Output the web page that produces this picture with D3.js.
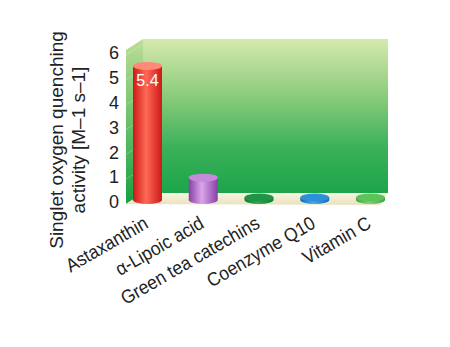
<!DOCTYPE html>
<html>
<head>
<meta charset="utf-8">
<script src="https://cdn.jsdelivr.net/npm/d3@7"></script>
<style>
  body { margin: 0; background: #fff; }
  svg { display: block; }
  text { font-family: "Liberation Sans", Arial, sans-serif; }
</style>
</head>
<body>
<svg width="450" height="347"></svg>
<script>
// data
const categories = ['Astaxanthin', 'α-Lipoic acid', 'Green tea catechins', 'Coenzyme Q10', 'Vitamin C'];
const values = [5.4, 0.9, 0.08, 0.05, 0.04];
const barColors = [
  ['#cc1818', '#ff6a55', '#ff8a78'],
  ['#8a3fa6', '#d9a6ea', '#c58ad8'],
  ['#117a35', '#2fa85a', '#1f9447'],
  ['#1368b8', '#4aa8ee', '#2e8fdc'],
  ['#3ea43e', '#7fd27a', '#5cc35a']
];
const yTicks = [0, 1, 2, 3, 4, 5, 6];
const yTitle = ['Singlet oxygen quenching', 'activity [M\u20131 s\u20131]'];

const svg = d3.select('svg');
const defs = svg.append('defs');

// 3d box geometry
const back = {left: 143, right: 388, top: 39, bottom: 193};
const depth = {dx: -17, dy: 11};

const y = d3.scaleLinear().domain([0, 6]).range([back.bottom, back.top + 5]);
const x = d3.scaleBand().domain(categories).range([133, 385]).paddingInner(0.48).paddingOuter(0);

// gradients
const wallGrad = defs.append('linearGradient').attr('id', 'wall')
  .attr('x1', 0).attr('y1', 0).attr('x2', 0).attr('y2', 1);
[['0%', '#d6e9ae'], ['35%', '#8fcd7e'], ['70%', '#3cb15a'], ['100%', '#1ca549']]
  .forEach(s => wallGrad.append('stop').attr('offset', s[0]).attr('stop-color', s[1]));

const sideGrad = defs.append('linearGradient').attr('id', 'side')
  .attr('x1', 0).attr('y1', 0).attr('x2', 0).attr('y2', 1);
[['0%', '#bcdc98'], ['40%', '#7cc672'], ['100%', '#17a044']]
  .forEach(s => sideGrad.append('stop').attr('offset', s[0]).attr('stop-color', s[1]));

const floorGrad = defs.append('linearGradient').attr('id', 'floor')
  .attr('x1', 0).attr('y1', 0).attr('x2', 0).attr('y2', 1);
[['0%', '#f8f4de'], ['100%', '#e9e2c0']]
  .forEach(s => floorGrad.append('stop').attr('offset', s[0]).attr('stop-color', s[1]));

barColors.forEach((c, i) => {
  const g = defs.append('linearGradient').attr('id', 'bar' + i)
    .attr('x1', 0).attr('y1', 0).attr('x2', 1).attr('y2', 0);
  g.append('stop').attr('offset', '0%').attr('stop-color', c[0]);
  g.append('stop').attr('offset', '45%').attr('stop-color', c[1]);
  g.append('stop').attr('offset', '100%').attr('stop-color', c[0]);
});

// back wall
svg.append('rect')
  .attr('x', back.left).attr('y', back.top)
  .attr('width', back.right - back.left).attr('height', back.bottom - back.top)
  .attr('fill', 'url(#wall)');

// side wall
svg.append('polygon')
  .attr('points', [
    [back.left, back.top], [back.left + depth.dx, back.top + depth.dy],
    [back.left + depth.dx, back.bottom + depth.dy], [back.left, back.bottom]
  ].join(' '))
  .attr('fill', 'url(#side)');

// faint grid on side wall
svg.append('g').selectAll('line').data(yTicks.slice(1)).join('line')
  .attr('x1', back.left).attr('y1', d => y(d))
  .attr('x2', back.left + depth.dx).attr('y2', d => y(d) + depth.dy)
  .attr('stroke', '#ffffff').attr('stroke-opacity', 0.25).attr('stroke-width', 1);

// floor
svg.append('polygon')
  .attr('points', [
    [back.left, back.bottom], [back.right, back.bottom],
    [back.right - 8, back.bottom + depth.dy + 1], [back.left + depth.dx, back.bottom + depth.dy]
  ].join(' '))
  .attr('fill', 'url(#floor)');

// y axis labels (front edge)
const yAxis = d3.axisLeft(y).tickValues(yTicks).tickSize(0).tickPadding(0).tickFormat(d3.format('d'));
const yg = svg.append('g')
  .attr('transform', 'translate(' + (back.left + depth.dx - 7) + ',' + (depth.dy - 2) + ')')
  .call(yAxis);
yg.select('.domain').remove();
yg.selectAll('text').attr('font-size', 18).attr('fill', '#222')
  .style('font-family', '"Liberation Sans", Arial, sans-serif');

// cylinders
const base = back.bottom + 7;
const off = base - y(0);
const rx = x.bandwidth() / 2, ry = 4;
const bars = svg.append('g').selectAll('g').data(categories).join('g');

bars.each(function(d, i) {
  const g = d3.select(this);
  const cx = x(d) + rx;
  const top = Math.min(y(values[i]) + off, base - 2.5);
  g.append('path')
    .attr('d', 'M' + (cx - rx) + ',' + top + ' L' + (cx - rx) + ',' + base +
      ' A' + rx + ',' + ry + ' 0 0 0 ' + (cx + rx) + ',' + base +
      ' L' + (cx + rx) + ',' + top + ' Z')
    .attr('fill', 'url(#bar' + i + ')');
  g.append('ellipse')
    .attr('cx', cx).attr('cy', top).attr('rx', rx).attr('ry', ry)
    .attr('fill', barColors[i][2]);
});

// value label
svg.append('text')
  .attr('x', x(categories[0]) + rx).attr('y', y(values[0]) + off + 20)
  .attr('text-anchor', 'middle').attr('font-size', 16).attr('fill', '#fff')
  .text(values[0]);

// category labels (slightly condensed)
svg.append('g').selectAll('text').data(categories).join('text')
  .attr('transform', d => 'translate(' + (x(d) + rx + 2) + ',' + 227 + ') rotate(-30) scale(0.92,1)')
  .attr('text-anchor', 'end').attr('font-size', 19).attr('fill', '#222')
  .text(d => d);

// y title
svg.append('g').selectAll('text').data(yTitle).join('text')
  .attr('transform', (d, i) => 'translate(' + (63 + i * 22) + ',140) rotate(-90)')
  .attr('text-anchor', 'middle').attr('font-size', 19).attr('fill', '#222')
  .text(d => d);
</script>
</body>
</html>
